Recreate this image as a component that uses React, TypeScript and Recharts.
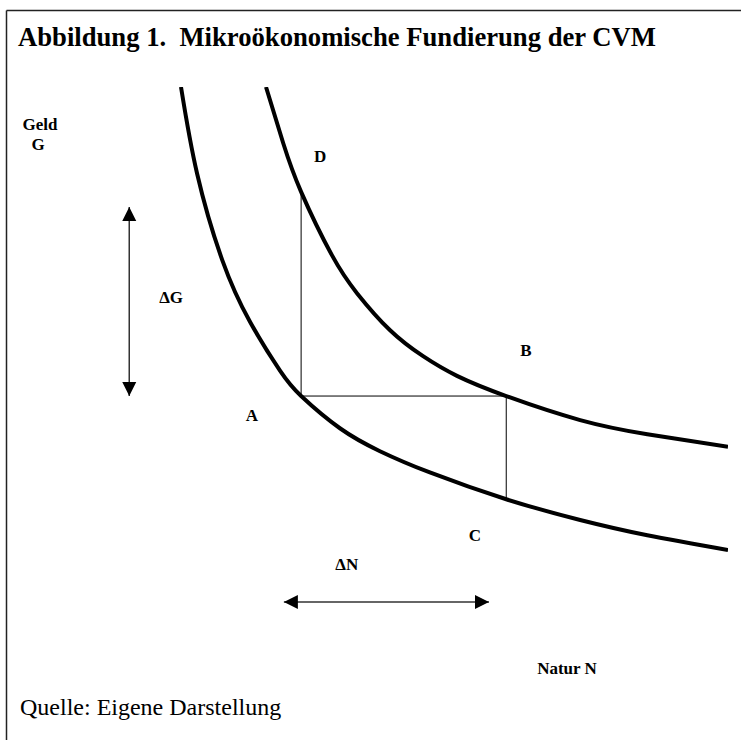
import { ComposedChart, Line, Scatter, XAxis, YAxis, ReferenceLine, ReferenceDot } from 'recharts'

// Indifference curves (N = Natur, G = Geld, both on a 0..10 scale)
const lowerCurve = [
  { n: 1.12, g: 10.0 },
  { n: 1.38, g: 8.42 },
  { n: 1.79, g: 6.83 },
  { n: 2.24, g: 5.7 },
  { n: 2.73, g: 4.8 },
  { n: 3.07, g: 4.34 },
  { n: 3.7, g: 3.75 },
  { n: 4.35, g: 3.33 },
  { n: 5.16, g: 2.94 },
  { n: 6.4, g: 2.45 },
  { n: 7.6, g: 2.07 },
  { n: 8.69, g: 1.79 },
  { n: 10.0, g: 1.52 },
]
const upperCurve = [
  { n: 2.5, g: 10.0 },
  { n: 2.78, g: 8.97 },
  { n: 3.07, g: 8.08 },
  { n: 3.57, g: 6.92 },
  { n: 3.98, g: 6.22 },
  { n: 4.51, g: 5.55 },
  { n: 5.05, g: 5.07 },
  { n: 5.6, g: 4.71 },
  { n: 6.4, g: 4.34 },
  { n: 7.6, g: 3.9 },
  { n: 8.69, g: 3.64 },
  { n: 10.0, g: 3.41 },
]

// corner points A, B, C, D
const pointA = { n: 3.07, g: 4.34 }
const pointB = { n: 6.4, g: 4.34 }
const pointC = { n: 6.4, g: 2.45 }
const pointD = { n: 3.07, g: 8.08 }

// double arrows for ΔG and ΔN
const arrowG = [
  { n: 0.28, g: 7.8, dir: 'up' },
  { n: 0.28, g: 4.34, dir: 'down' },
]
const arrowN = [
  { n: 2.79, g: 0.57, dir: 'left' },
  { n: 6.12, g: 0.57, dir: 'right' },
]

// point labels
const labels = [
  { text: 'D', n: 3.38, g: 8.72 },
  { text: 'B', n: 6.72, g: 5.18 },
  { text: 'A', n: 2.27, g: 3.99 },
  { text: 'C', n: 5.89, g: 1.79 },
  { text: 'ΔG', n: 0.96, g: 6.15 },
  { text: 'ΔN', n: 3.81, g: 1.25 },
]

const W = 741
const H = 740
const serif = '"Liberation Serif", "Times New Roman", serif'

function ArrowHead(props: any) {
  const { cx, cy, payload } = props
  const L = 14
  const h = 7
  let pts = ''
  if (payload.dir === 'up') pts = `${cx},${cy} ${cx - h},${cy + L} ${cx + h},${cy + L}`
  if (payload.dir === 'down') pts = `${cx},${cy} ${cx - h},${cy - L} ${cx + h},${cy - L}`
  if (payload.dir === 'left') pts = `${cx},${cy} ${cx + L},${cy - h} ${cx + L},${cy + h}`
  if (payload.dir === 'right') pts = `${cx},${cy} ${cx - L},${cy - h} ${cx - L},${cy + h}`
  return <polygon points={pts} fill="#000" />
}

function LabelText(text: string) {
  return (p: any) => (
    <text x={p.cx} y={p.cy} textAnchor="middle" dominantBaseline="central" fontFamily={serif} fontWeight="bold" fontSize={17} fill="#000">
      {text}
    </text>
  )
}

export default function App() {
  return (
    <div style={{ position: 'absolute', left: 0, top: 0, width: W, height: H, overflow: 'hidden', background: '#fff' }}>
      <svg width={W} height={H} style={{ position: 'absolute', left: 0, top: 0 }}>
        <line x1={6.5} y1={10.5} x2={W} y2={10.5} stroke="#222" strokeWidth={1.5} />
        <line x1={6.5} y1={10.5} x2={6.5} y2={H} stroke="#222" strokeWidth={1.5} />
        <text x={18} y={46} fontFamily={serif} fontWeight="bold" fontSize={26.5} fill="#000" textLength={638} lengthAdjust="spacingAndGlyphs">
          {'Abbildung 1.\u00A0 Mikroökonomische Fundierung der CVM'}
        </text>
        <text x={40} y={130} textAnchor="middle" fontFamily={serif} fontWeight="bold" fontSize={17}>Geld</text>
        <text x={38} y={150} textAnchor="middle" fontFamily={serif} fontWeight="bold" fontSize={17}>G</text>
        <text x={567} y={674} textAnchor="middle" fontFamily={serif} fontWeight="bold" fontSize={17}>Natur N</text>
        <text x={20} y={715} fontFamily={serif} fontSize={24}>Quelle: Eigene Darstellung</text>
      </svg>
      <div style={{ position: 'absolute', left: 0, top: 0 }}>
        <ComposedChart width={W} height={H} margin={{ top: 87, right: 13, bottom: 107, left: 112 }}>
          <XAxis type="number" dataKey="n" domain={[0, 10]} height={0} tick={false} tickLine={false} axisLine={{ stroke: '#333', strokeWidth: 1.3 }} allowDataOverflow />
          <YAxis type="number" dataKey="g" domain={[0, 10]} width={0} tick={false} tickLine={false} axisLine={{ stroke: '#333', strokeWidth: 1.3 }} allowDataOverflow />
          <ReferenceLine segment={[{ x: pointA.n, y: pointA.g }, { x: pointD.n, y: pointD.g }]} stroke="#000" strokeWidth={1} />
          <ReferenceLine segment={[{ x: pointA.n, y: pointA.g }, { x: pointB.n, y: pointB.g }]} stroke="#000" strokeWidth={1} />
          <ReferenceLine segment={[{ x: pointB.n, y: pointB.g }, { x: pointC.n, y: pointC.g }]} stroke="#000" strokeWidth={1} />
          <Line data={lowerCurve} dataKey="g" type="natural" stroke="#000" strokeWidth={4} dot={false} activeDot={false} isAnimationActive={false} />
          <Line data={upperCurve} dataKey="g" type="natural" stroke="#000" strokeWidth={4} dot={false} activeDot={false} isAnimationActive={false} />
          <Line data={arrowG} dataKey="g" type="linear" stroke="#333" strokeWidth={1.5} dot={false} activeDot={false} isAnimationActive={false} />
          <Line data={arrowN} dataKey="g" type="linear" stroke="#333" strokeWidth={1.5} dot={false} activeDot={false} isAnimationActive={false} />
          <Scatter data={arrowG} dataKey="g" shape={ArrowHead} isAnimationActive={false} />
          <Scatter data={arrowN} dataKey="g" shape={ArrowHead} isAnimationActive={false} />
          {labels.map((l) => (
            <ReferenceDot key={l.text} x={l.n} y={l.g} r={0} shape={LabelText(l.text)} />
          ))}
        </ComposedChart>
      </div>
    </div>
  )
}
